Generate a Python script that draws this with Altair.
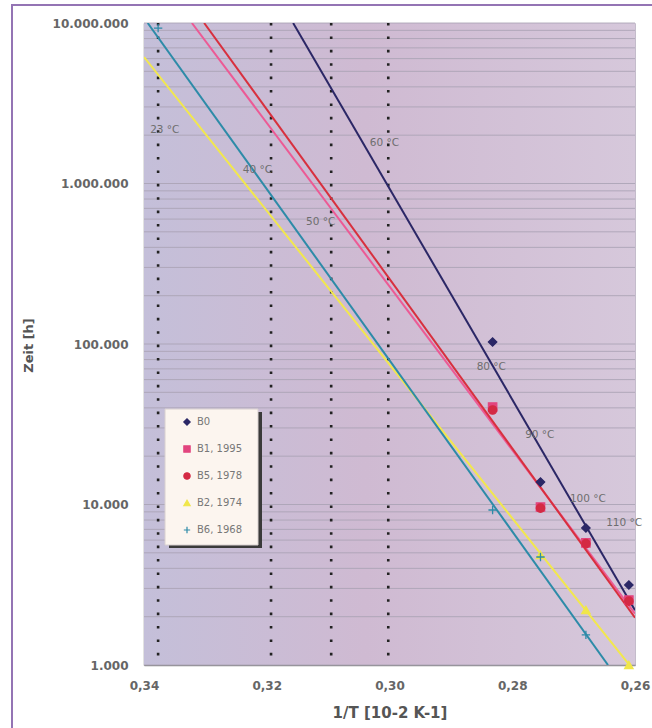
import altair as alt
import pandas as pd

# ---------------- data ----------------
series = ["B0", "B1, 1995", "B5, 1978", "B2, 1974", "B6, 1968"]
line_colors = ["#2b2766", "#ec5a95", "#d8303e", "#f2e84c", "#2d8ba8"]
marker_colors = ["#2b2766", "#e2457f", "#d42a44", "#f0e64a", "#2d8ba8"]
marker_shapes = ["diamond", "square", "circle", "triangle-up", "M-1,0L1,0M0,-1L0,1"]

# regression lines (start / end)
line_x_start = [0.3157, 0.3322, 0.3302, 0.3400, 0.3394]
line_y_start = [1e7, 1e7, 1e7, 6.14e6, 1e7]
line_x_end = [0.2600, 0.2600, 0.2600, 0.2600, 0.2644]
line_y_end = [2190, 2090, 1970, 905, 1000]

# measured points
b0_x = [0.2832, 0.2754, 0.2680, 0.2610]
b0_y = [102900, 13800, 7140, 3150]
b1_x = [0.2832, 0.2754, 0.2680, 0.2610]
b1_y = [40500, 9650, 5760, 2540]
b5_x = [0.2832, 0.2754, 0.2680, 0.2610]
b5_y = [38800, 9500, 5700, 2500]
b2_x = [0.2754, 0.2680, 0.2610]
b2_y = [4850, 2200, 1000]
b6_x = [0.3377, 0.2832, 0.2754, 0.2680]
b6_y = [9300000, 9240, 4710, 1540]

# temperature reference lines and labels
temp_lines_x = [0.3377, 0.3193, 0.3095, 0.3002]
temp_labels = ["23 °C", "40 °C", "50 °C", "60 °C", "80 °C", "90 °C", "100 °C", "110 °C"]
temp_label_x = [0.3390, 0.3239, 0.3136, 0.3032, 0.2858, 0.2779, 0.2706, 0.2647]
temp_label_y = [2155000, 1214000, 575600, 1788000, 71900, 27100, 10820, 7670]

x_ticks = [0.34, 0.32, 0.30, 0.28, 0.26]
y_ticks = [1000, 10000, 100000, 1000000, 10000000]
grid_vals = [m * 10 ** e for e in range(3, 7) for m in range(1, 10)] + [10 ** 7]

# ---------------- chart ----------------
W, H = 491, 642
FONT = "DejaVu Sans"

xscale = alt.Scale(domain=[0.26, 0.34], reverse=True, nice=False, zero=False)
yscale = alt.Scale(type="log", domain=[1000, 10000000], nice=False)

xaxis = alt.Axis(values=x_ticks,
                 labelExpr="replace(format(datum.value, '.2f'), '.', ',')",
                 title="1/T [10-2 K-1]", grid=False, ticks=False, labelPadding=15,
                 labelFlush=False, labelOverlap=False,
                 labelFont=FONT, labelFontWeight="bold", labelFontSize=12, labelColor="#666666",
                 titleFont=FONT, titleFontWeight="bold", titleFontSize=15, titleColor="#555555",
                 titleY=47, titleBaseline="middle",
                 domainColor="#8a8a8a", domainWidth=1.5)
yaxis = alt.Axis(values=y_ticks,
                 labelExpr="replace(format(datum.value, ',d'), regexp(',', 'g'), '.')",
                 title="Zeit [h]", grid=False, ticks=False, labelPadding=16,
                 labelFlush=False, labelOverlap=False,
                 labelFont=FONT, labelFontWeight="bold", labelFontSize=12, labelColor="#666666",
                 titleFont=FONT, titleFontWeight="bold", titleFontSize=13, titleColor="#555555",
                 titleX=-116, titleY=322, titleAngle=270, titleAlign="center", titleBaseline="middle",
                 domainColor="#8a8a8a", domainWidth=1.5)


def X(f):
    return alt.X(f, type="quantitative", scale=xscale, axis=xaxis)


def Y(f):
    return alt.Y(f, type="quantitative", scale=yscale, axis=yaxis)


one = pd.DataFrame({"a": [0]})

frame = alt.Chart(one).mark_rect(filled=False, stroke="#9474b4", strokeWidth=2, clip=False).encode(
    x=alt.value(-132), x2=alt.value(W + 60), y=alt.value(-18), y2=alt.value(H + 90))

bg = alt.Chart(one).mark_rect(
    color=alt.LinearGradient(
        gradient="linear", x1=0, x2=1, y1=0, y2=0,
        stops=[alt.GradientStop(offset=0, color="#c4bfd9"),
               alt.GradientStop(offset=0.45, color="#cfbad2"),
               alt.GradientStop(offset=1, color="#d6c8db")])
).encode(x=alt.value(0), x2=alt.value(W), y=alt.value(0), y2=alt.value(H))

grid = alt.Chart(pd.DataFrame({"v": grid_vals})).mark_rule(
    color="#a9a2b4", strokeWidth=1, opacity=0.85).encode(y=Y("v"))

tlines = alt.Chart(pd.DataFrame({"t": temp_lines_x})).mark_rule(
    color="#222222", strokeWidth=2.6, strokeDash=[2.6, 10.8]).encode(x=X("t"))

layers = [frame, bg, grid, tlines]

for s, c, xs, ys, xe, ye in zip(series, line_colors, line_x_start, line_y_start, line_x_end, line_y_end):
    df = pd.DataFrame({"x": [xs, xe], "y": [ys, ye], "s": [s, s]})
    layers.append(alt.Chart(df).mark_line(color=c, strokeWidth=2, clip=True).encode(x=X("x"), y=Y("y")))

pts = pd.concat([
    pd.DataFrame({"x": b0_x, "y": b0_y, "s": series[0]}),
    pd.DataFrame({"x": b1_x, "y": b1_y, "s": series[1]}),
    pd.DataFrame({"x": b5_x, "y": b5_y, "s": series[2]}),
    pd.DataFrame({"x": b2_x, "y": b2_y, "s": series[3]}),
    pd.DataFrame({"x": b6_x, "y": b6_y, "s": series[4]}),
], ignore_index=True)

# legend box with shadow (decoration, pixel placed)
shadow = alt.Chart(one).mark_rect(color="#3a3a3a").encode(
    x=alt.value(25), x2=alt.value(118), y=alt.value(389), y2=alt.value(525))
box = alt.Chart(one).mark_rect(color="#fcf5ef", stroke="#d8d0d0", strokeWidth=1).encode(
    x=alt.value(21), x2=alt.value(114), y=alt.value(386), y2=alt.value(522))
layers += [shadow, box]

leg = alt.Legend(title=None, orient="none", legendX=38, legendY=394, padding=0,
                 rowPadding=15, labelFontSize=10, labelFont=FONT, labelColor="#777777",
                 symbolSize=40, symbolStrokeWidth=1.2, labelOffset=5, symbolOffset=0)

points = alt.Chart(pts).mark_point(filled=True, strokeWidth=1.3, opacity=1, size=70, clip=False).encode(
    x=X("x"), y=Y("y"),
    fill=alt.Fill("s:N", scale=alt.Scale(domain=series, range=marker_colors), legend=leg),
    stroke=alt.Stroke("s:N", scale=alt.Scale(domain=series, range=marker_colors), legend=leg),
    shape=alt.Shape("s:N", scale=alt.Scale(domain=series, range=marker_shapes), legend=leg),
)
layers.append(points)

labels = alt.Chart(pd.DataFrame({"x": temp_label_x, "y": temp_label_y, "t": temp_labels})).mark_text(
    align="left", baseline="middle", font=FONT, fontSize=10.5, color="#6e6e6e").encode(
    x=X("x"), y=Y("y"), text="t:N")
layers.append(labels)

chart = alt.layer(*layers).properties(
    width=W, height=H,
    padding={"left": 144, "top": 23, "right": 17, "bottom": 63},
    autosize=alt.AutoSizeParams(type="none"),
    background="white",
).configure_view(stroke="#c4bccb")

chart.save("out.html", embed_options={"renderer": "svg", "actions": False})
